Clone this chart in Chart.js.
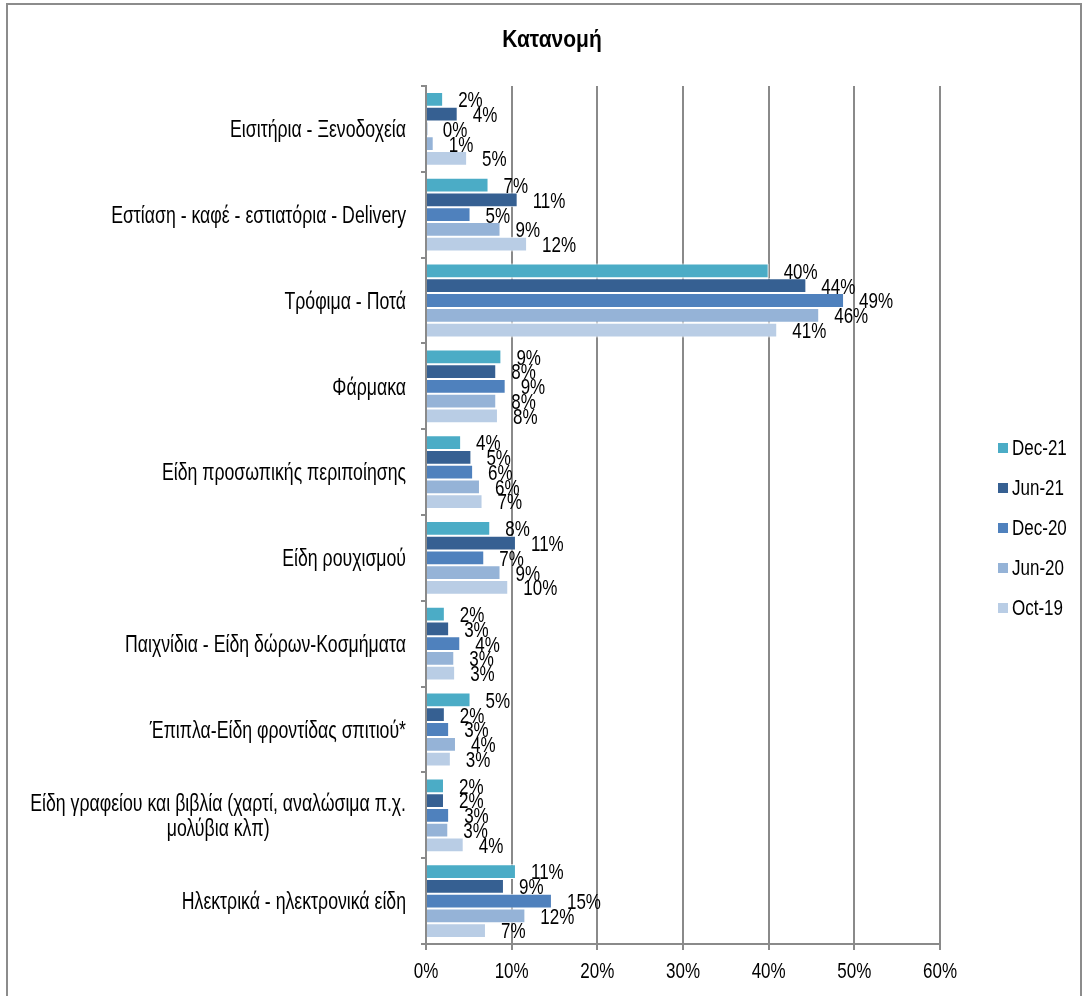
<!DOCTYPE html>
<html lang="el">
<head>
    <meta charset="UTF-8">
    <title>Κατανομή</title>
    <script src="https://cdn.jsdelivr.net/npm/chart.js"></script>
    <style>
body {
    margin: 0;
    padding: 0;
    background-color: #fff;
    overflow: hidden;
}

.frame {
    position: absolute;
    left: 6px;
    top: 3px;
    width: 1072px;
    height: 1010px;
    border: 2px solid #8c8c8c;
}

.chart-box {
    position: absolute;
    left: 0;
    top: 0;
    width: 1089px;
    height: 996px;
}
    </style>
</head>
<body>
    <div class="frame"></div>
    <div class="chart-box">
        <canvas id="distChart" width="1089" height="996"></canvas>
    </div>

    <script>
        // categories (top to bottom)
        const categories = [
            'Εισιτήρια - Ξενοδοχεία',
            'Εστίαση - καφέ - εστιατόρια - Delivery',
            'Τρόφιμα - Ποτά',
            'Φάρμακα',
            'Είδη προσωπικής περιποίησης',
            'Είδη ρουχισμού',
            'Παιχνίδια - Είδη δώρων-Κοσμήματα',
            'Έπιπλα-Είδη φροντίδας σπιτιού*',
            ['Είδη γραφείου και βιβλία (χαρτί, αναλώσιμα π.χ.', 'μολύβια κλπ)'],
            'Ηλεκτρικά - ηλεκτρονικά είδη'
        ];

        // series values in %
        const dec21 = [2.0, 7.3, 40.0, 8.8, 4.1, 7.5, 2.2, 5.2, 2.1, 10.5];
        const jun21 = [3.7, 10.7, 44.4, 8.2, 5.3, 10.5, 2.7, 2.2, 2.1, 9.1];
        const dec20 = [0.2, 5.2, 48.8, 9.3, 5.5, 6.8, 4.0, 2.7, 2.7, 14.7];
        const jun20 = [0.9, 8.7, 45.9, 8.2, 6.3, 8.7, 3.3, 3.5, 2.6, 11.6];
        const oct19 = [4.8, 11.8, 41.0, 8.4, 6.6, 9.6, 3.4, 2.9, 4.4, 7.0];

        const seriesNames = ['Dec-21', 'Jun-21', 'Dec-20', 'Jun-20', 'Oct-19'];
        const seriesColors = ['#4bacc6', '#366092', '#4f81bd', '#95b3d7', '#b9cde5'];
        const xTicks = [0, 10, 20, 30, 40, 50, 60];

        const gridGray = '#8a8a8a';
        const font = '"Liberation Sans", Arial, sans-serif';

        // the source picture is stretched vertically, so text is drawn taller than wide
        function tallText(ctx, text, x, y, sy) {
            ctx.save();
            ctx.translate(x, y);
            ctx.scale(1, sy);
            ctx.fillText(text, 0, 0);
            ctx.restore();
        }

        // title, legend, axis texts and value labels
        const extras = {
            id: 'extras',
            afterDatasetsDraw(chart) {
                const ctx = chart.ctx;
                ctx.save();
                ctx.fillStyle = '#000';
                ctx.font = '17px ' + font;
                ctx.textAlign = 'left';
                ctx.textBaseline = 'middle';
                chart.data.datasets.forEach((ds, i) => {
                    const meta = chart.getDatasetMeta(i);
                    meta.data.forEach((bar, j) => {
                        tallText(ctx, Math.round(ds.data[j]) + '%', bar.x + 15, bar.y + 2, 1.25);
                    });
                });
                ctx.restore();
            },
            afterDraw(chart) {
                const ctx = chart.ctx;
                const yScale = chart.scales.y;
                const xScale = chart.scales.x;
                ctx.save();
                ctx.fillStyle = '#000';
                ctx.textBaseline = 'middle';

                // category names: block right-aligned, lines centred inside it
                ctx.font = '17.7px ' + font;
                ctx.textAlign = 'center';
                categories.forEach((label, i) => {
                    const y = yScale.getPixelForTick(i);
                    const lines = Array.isArray(label) ? label : [label];
                    const blockW = Math.max(...lines.map(l => ctx.measureText(l).width));
                    const cx = 406 - blockW / 2;
                    lines.forEach((l, k) => {
                        tallText(ctx, l, cx, y + 2 + (k - (lines.length - 1) / 2) * 25, 1.3);
                    });
                });

                // x tick labels
                ctx.font = '17px ' + font;
                xTicks.forEach(v => {
                    tallText(ctx, v + '%', xScale.getPixelForValue(v), 972, 1.3);
                });

                ctx.font = 'bold 21px ' + font;
                tallText(ctx, 'Κατανομή', 552, 40, 1.15);

                ctx.font = '17px ' + font;
                ctx.textAlign = 'left';
                seriesNames.forEach((name, i) => {
                    const y = 448 + i * 40;
                    ctx.fillStyle = seriesColors[i];
                    ctx.fillRect(998, y - 5, 10, 10);
                    ctx.fillStyle = '#000';
                    tallText(ctx, name, 1012, y + 1, 1.25);
                });
                ctx.restore();
            }
        };

        const seriesData = [dec21, jun21, dec20, jun20, oct19];

        const ctx = document.getElementById('distChart').getContext('2d');
        const distChart = new Chart(ctx, {
            type: 'bar',
            data: {
                labels: categories,
                datasets: seriesData.map((d, i) => ({
                    label: seriesNames[i],
                    data: d,
                    backgroundColor: seriesColors[i],
                    borderColor: '#ffffff',
                    borderWidth: 1,
                    categoryPercentage: 0.86,
                    barPercentage: 1.0
                }))
            },
            options: {
                indexAxis: 'y',
                responsive: false,
                animation: false,
                layout: {
                    padding: { top: 86, left: 0, right: 149, bottom: 0 }
                },
                plugins: {
                    legend: { display: false },
                    title: { display: false },
                    tooltip: { enabled: false }
                },
                scales: {
                    x: {
                        min: 0,
                        max: 60,
                        afterBuildTicks: (scale) => {
                            scale.ticks = xTicks.map(v => ({ value: v }));
                        },
                        afterFit: (scale) => { scale.height = 52; },
                        ticks: { display: false },
                        grid: {
                            color: gridGray,
                            lineWidth: 2,
                            tickLength: 6
                        },
                        border: { color: gridGray, width: 2 }
                    },
                    y: {
                        afterFit: (scale) => { scale.width = 426; },
                        ticks: { display: false },
                        grid: {
                            drawOnChartArea: false,
                            offset: true,
                            color: gridGray,
                            lineWidth: 2,
                            tickLength: 5
                        },
                        border: { color: gridGray, width: 2 }
                    }
                }
            },
            plugins: [extras]
        });
    </script>
</body>
</html>
